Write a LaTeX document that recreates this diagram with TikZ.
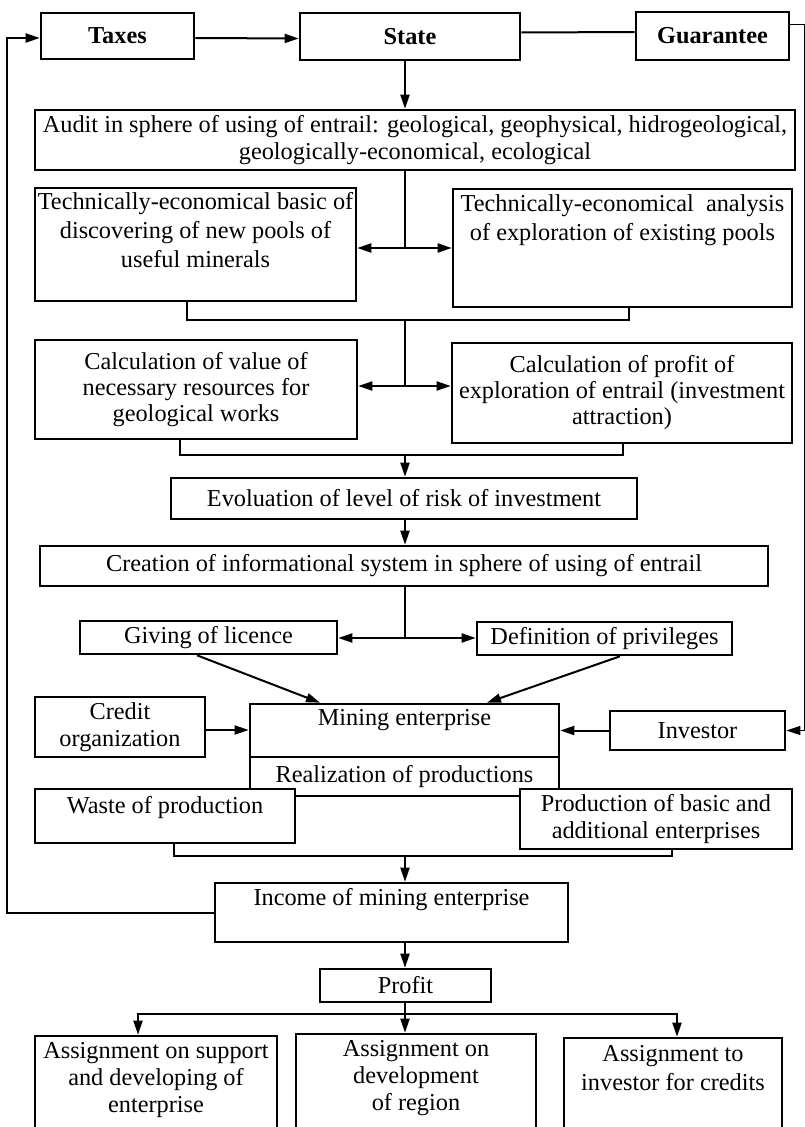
\documentclass[tikz,border=0pt]{standalone}
\usepackage{fontspec}
\setmainfont{Liberation Serif}
\usetikzlibrary{arrows.meta,positioning}
\begin{document}
\begin{tikzpicture}[x=1pt,y=-1pt,>={Triangle[length=14pt,width=9pt]},
		font=\fontsize{24.3}{29}\selectfont,
		box/.style={draw,line width=2.6pt,align=center,inner sep=0pt},
		txt/.style={align=center,inner sep=0pt},
		link/.style={line width=2pt},
		brace/.style={line width=1.4pt}]
	\useasboundingbox (0,0) rectangle (804,1127);
	
	% top row
	\node[box,minimum width=153pt,minimum height=46pt] (taxes) at (117.5,36) {\textbf{Taxes}};
	\node[box,minimum width=220pt,minimum height=47pt] (state) at (410,36.5) {\textbf{State}};
	\node[box,minimum width=153pt,minimum height=48pt] (guar) at (712.5,36) {\textbf{Guarantee}};
	
	% spine points
	\coordinate (j1) at (405,248);
	\coordinate (j2) at (405,320);
	\coordinate (j3) at (405,386);
	\coordinate (j4) at (405,455);
	\coordinate (j5) at (405,638);
	\coordinate (j6) at (405,856);
	\coordinate (j7) at (405,1014);
	\coordinate (lft) at (7,0);
	
	\node[box,minimum width=760pt,minimum height=60pt] (audit) at (415,140) {Audit in sphere of using of entrail: geological, geophysical, hidrogeological,\\[-2pt]geologically-economical, ecological};
	
	\node[box,minimum width=321pt,minimum height=113pt] (techL) at (195.5,244.5) {};
	\node[txt,below=5pt of techL.north] (techLt) {Technically-economical basic of\\discovering of new pools of\\useful minerals};
	\node[box,minimum width=339pt,minimum height=118pt] (techR) at (622.5,248) {};
	\node[txt,below=7pt of techR.north] (techRt) {Technically-economical\ \ analysis\\of exploration of existing pools};
	
	\node[box,minimum width=322pt,minimum height=99pt] (calcL) at (196,389.5) {Calculation of value of\\[-3pt]necessary resources for\\[-3pt]geological works};
	\node[box,minimum width=340pt,minimum height=100pt] (calcR) at (622,393) {Calculation of profit of\\[-3pt]exploration of entrail (investment\\[-3pt]attraction)};
	
	\node[box,minimum width=466pt,minimum height=41pt] (evol) at (404,498.5) {Evoluation of level of risk of investment};
	\node[box,minimum width=728pt,minimum height=40pt] (creat) at (404,566) {Creation of informational system in sphere of using of entrail};
	
	\node[box,minimum width=257pt,minimum height=33pt] (giving) at (208.5,637.5) {Giving of licence};
	\node[box,minimum width=255pt,minimum height=33pt] (defin) at (604.5,638.5) {Definition of privileges};
	
	\node[box,minimum width=170pt,minimum height=60pt] (credit) at (120,727) {Credit\\[-2pt]organization};
	\node[box,minimum width=309pt,minimum height=53pt] (mining) at (404.5,730.5) {};
	\node[txt,below=7pt of mining.north] (miningt) {Mining enterprise};
	\node[box,minimum width=309pt,minimum height=39pt] (real) at (404.5,776.5) {Realization of productions};
	\node[box,minimum width=175pt,minimum height=39pt] (invest) at (697.5,730.5) {Investor};
	
	\node[box,minimum width=260pt,minimum height=54pt,fill=white] (waste) at (165,816) {};
	\node[txt,below=8pt of waste.north] (wastet) {Waste of production};
	\node[box,minimum width=272pt,minimum height=60pt,fill=white] (prod) at (656,819) {Production of basic and\\[-2pt]additional enterprises};
	
	\node[box,minimum width=353pt,minimum height=59pt] (income) at (391.5,912.5) {};
	\node[txt,below=6pt of income.north] (incomet) {Income of mining enterprise};
	\node[box,minimum width=171pt,minimum height=33pt] (profit) at (405.5,985.5) {Profit};
	
	\node[box,minimum width=242pt,minimum height=104pt] (asL) at (156,1088) {};
	\node[txt,below=7pt of asL.north] (asLt) {Assignment on support\\[-2pt]and developing of\\[-2pt]enterprise};
	\node[box,minimum width=240pt,minimum height=106pt] (asM) at (416,1087) {};
	\node[txt,below=7pt of asM.north] (asMt) {Assignment on\\[-2pt]development\\[-2pt]of region};
	\node[box,minimum width=218pt,minimum height=102pt] (asR) at (673,1089) {};
	\node[txt,below=8pt of asR.north] (asRt) {Assignment to\\investor for credits};
	
	% connectors
	\draw[link,->] ([yshift=-2pt]taxes.east) -- ([yshift=-2pt]state.west);
	\draw[link] ([yshift=4pt]state.east) -- ([yshift=4pt]guar.west);
	\draw[line width=1pt,->] ([yshift=12pt]guar.east) -- ++(14,0) |- (invest.east);
	\draw[link,->] (income.west) -| ([yshift=-2pt]lft |- taxes.west) -- ([yshift=-2pt]taxes.west);
	
	\draw[link,->] (state.south -| j1) -- (audit.north -| j1);
	\draw[link] (audit.south -| j1) -- (j1);
	\draw[link,<->] (j1 -| techL.east) -- (j1 -| techR.west);
	\draw[brace] ([xshift=-8.5pt]techL.south) |- (j2) -| ([xshift=6.5pt]techR.south);
	\draw[brace] (j2) -- (j3);
	\draw[link,<->] (j3 -| calcL.east) -- (j3 -| calcR.west);
	\draw[brace] ([xshift=-16pt]calcL.south) |- (j4) -| ([xshift=1pt]calcR.south);
	\draw[link,->] (j4) -- (evol.north -| j4);
	\draw[link,->] (evol.south -| j4) -- (creat.north -| j4);
	\draw[brace] (creat.south -| j5) -- (j5);
	\draw[link,<->] (j5 -| giving.east) -- (j5 -| defin.west);
	
	\draw[link,->] ([xshift=-11.5pt]giving.south) -- ([xshift=-84.5pt]mining.north);
	\draw[link,->] ([xshift=15.5pt]defin.south) -- ([xshift=82.5pt]mining.north);
	\draw[link,->] ([yshift=-3pt]credit.east) -- ([yshift=-3pt]credit.east -| mining.west);
	\draw[link,->] (invest.west) -- (invest.west -| mining.east);
	
	\draw[brace] ([xshift=9pt]waste.south) |- (j6) -| ([xshift=16pt]prod.south);
	\draw[link,->] (j6) -- (income.north -| j6);
	\draw[link,->] (income.south -| j6) -- (profit.north -| j6);
	\draw[link] (profit.south -| j7) -- (j7);
	\draw[link,->] (j7) -- (asM.north -| j7);
	\draw[link,->] (j7) -| ([xshift=-18pt]asL.north);
	\draw[link,->] (j7) -| ([xshift=4pt]asR.north);
\end{tikzpicture}
\end{document}
